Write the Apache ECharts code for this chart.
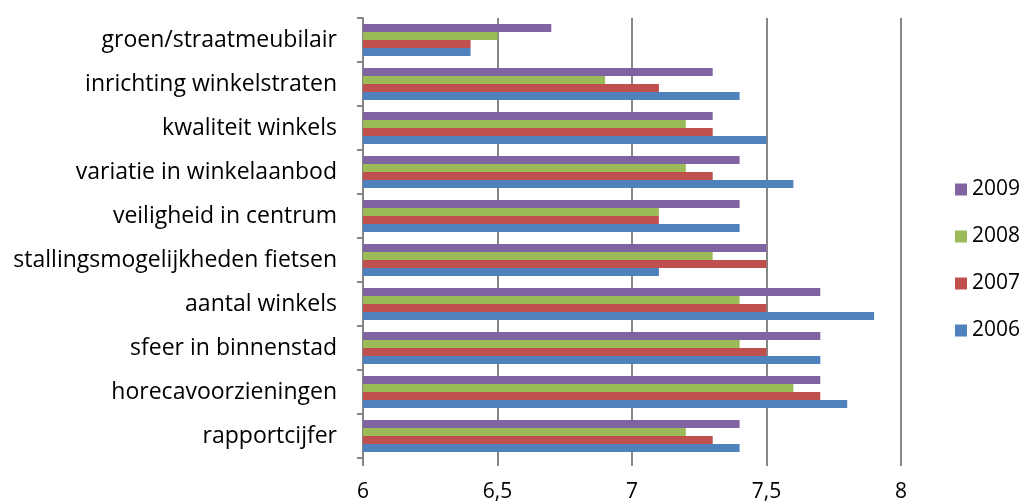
<!DOCTYPE html>
<html>
<head>
<meta charset="utf-8">
<script src="https://cdn.jsdelivr.net/npm/echarts@6/dist/echarts.min.js"></script>
<style>html,body{margin:0;padding:0;background:#fff}#c{width:1028px;height:503px}</style>
</head>
<body>
<div id="c"></div>
<script>
var categories = ['rapportcijfer','horecavoorzieningen','sfeer in binnenstad','aantal winkels','stallingsmogelijkheden fietsen','veiligheid in centrum','variatie in winkelaanbod','kwaliteit winkels','inrichting winkelstraten','groen/straatmeubilair'];
var years = ['2009','2008','2007','2006'];
var v2006 = [7.4, 7.8, 7.7, 7.9, 7.1, 7.4, 7.6, 7.5, 7.4, 6.4];
var v2007 = [7.3, 7.7, 7.5, 7.5, 7.5, 7.1, 7.3, 7.3, 7.1, 6.4];
var v2008 = [7.2, 7.6, 7.4, 7.4, 7.3, 7.1, 7.2, 7.2, 6.9, 6.5];
var v2009 = [7.4, 7.7, 7.7, 7.7, 7.5, 7.4, 7.4, 7.3, 7.3, 6.7];
var colors = ['#8064A2', '#9BBB59', '#C0504D', '#4F81BD'];
var values = [v2009, v2008, v2007, v2006];
var FONT = '"Open Sans", sans-serif';
var chart = echarts.init(document.getElementById('c'));
var series = years.map(function (y, i) {
  return {
    name: y, type: 'bar', data: values[i], barWidth: 8, barGap: '0%',
    itemStyle: { color: colors[i] }
  };
});
chart.setOption({
  animation: false,
  textStyle: { fontFamily: FONT },
  grid: { left: 363, right: 127, top: 18, bottom: 45, containLabel: false },
  legend: {
    orient: 'vertical', left: 950, top: 174,
    data: ['2009', '2008', '2007', '2006'],
    itemWidth: 12, itemHeight: 12, itemGap: 26,
    icon: 'rect',
    textStyle: { fontSize: 21, color: '#000', fontFamily: FONT }
  },
  xAxis: {
    type: 'value', min: 6, max: 8, interval: 0.5,
    axisLine: { show: false },
    axisTick: { show: true, length: 8, lineStyle: { color: '#868686', width: 2 } },
    splitLine: { show: true, lineStyle: { color: '#868686', width: 2 } },
    axisLabel: {
      fontSize: 21, color: '#000', margin: 24, fontFamily: FONT,
      formatter: function (v) { return String(v).replace('.', ','); }
    }
  },
  yAxis: {
    type: 'category', data: categories,
    axisLine: { show: true, lineStyle: { color: '#868686', width: 2 } },
    axisTick: { show: true, length: 6, lineStyle: { color: '#868686', width: 2 } },
    axisLabel: { fontSize: 23, color: '#000', margin: 26, fontFamily: FONT }
  },
  series: series
});
</script>
</body>
</html>
